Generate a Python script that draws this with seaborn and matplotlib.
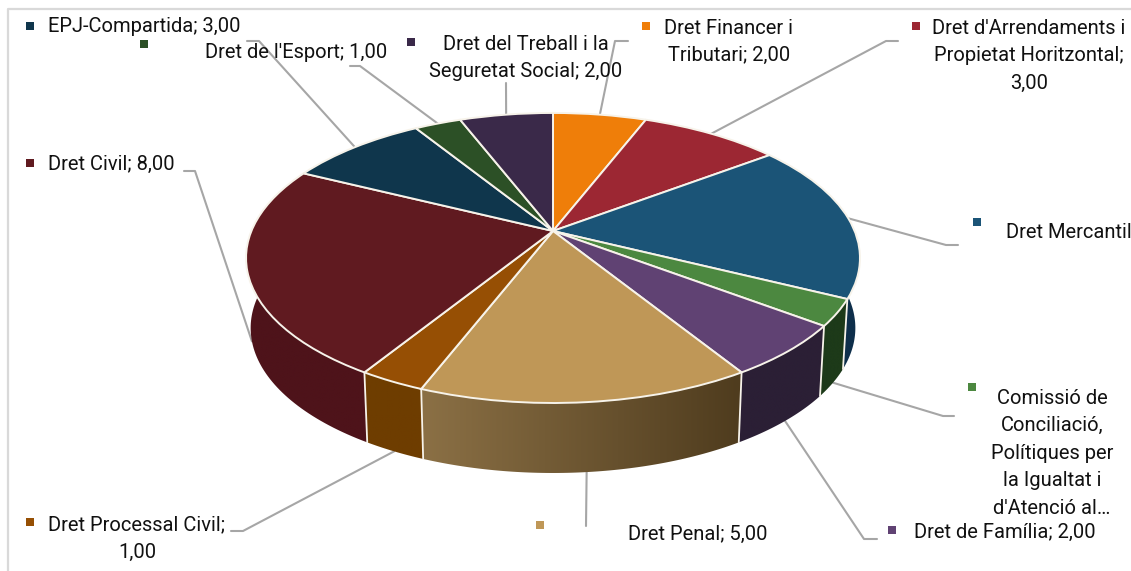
import numpy as np
import seaborn as sns
import matplotlib
matplotlib.use("Agg")
import matplotlib.pyplot as plt
from matplotlib.colors import to_rgb
from matplotlib.patches import Polygon
from matplotlib.transforms import Transform

# dades (en ordre horari des de dalt)
categories = ["Dret Financer i Tributari", "Dret d'Arrendaments i Propietat Horitzontal",
              "Dret Mercantil", "Comissió de Conciliació", "Dret de Família", "Dret Penal",
              "Dret Processal Civil", "Dret Civil", "EPJ-Compartida", "Dret de l'Esport",
              "Dret del Treball i la Seguretat Social"]
valors = [2, 3, 6, 1, 2, 5, 1, 8, 3, 1, 2]
etiquetes = [["Dret Financer i", "Tributari; 2,00"],
             ["Dret d'Arrendaments i", "Propietat Horitzontal;", "3,00"],
             ["Dret Mercantil"],
             ["Comissió de", "Conciliació,", "Polítiques per", "la Igualtat i", "d'Atenció al…"],
             ["Dret de Família; 2,00"],
             ["Dret Penal; 5,00"],
             ["Dret Processal Civil;", "1,00"],
             ["Dret Civil; 8,00"],
             ["EPJ-Compartida; 3,00"],
             ["Dret de l'Esport; 1,00"],
             ["Dret del Treball i la", "Seguretat Social; 2,00"]]

colors_dalt = ["#ef7e09", "#9c2733", "#1b5477", "#4c8840", "#604273", "#bf9757",
               "#964f04", "#601a20", "#0f364c", "#2c5026", "#3a2949"]
colors_paret_a = ["#b05c05", "#6f1b24", "#0e2f4b", "#1d3a19", "#2b1f35", "#8b7045",
                  "#6e3d00", "#4e131a", "#0a2636", "#1d3519", "#261b30"]
colors_paret_b = ["#b05c05", "#6f1b24", "#0e2f4b", "#1d3a19", "#2b1f35", "#4f3c1e",
                  "#6e3d00", "#4e131a", "#0a2636", "#1d3519", "#261b30"]

# posicio del text: x, y primera linia, alineacio
pos_text = [(729, 28, "center"), (1029, 28, "center"), (1006, 232, "left"),
            (1052, 398, "center"), (914, 532, "left"), (628, 534, "left"),
            (137, 525, "center"), (48, 164, "left"), (48, 27, "left"),
            (205, 53, "left"), (526, 44, "center")]
pos_marca = [(646, 26), (916, 26), (977, 222), (972, 387), (892, 530), (540, 525),
             (30, 522), (30, 163), (30, 26), (144, 44), (411, 42)]
# colze i final de cada linia guia
guies = [[(615, 41), (628, 41)], [(886, 41), (898, 41)], [(946, 245), (958, 245)],
         [(943, 416), (954, 416)], [(864, 539), (877, 539)], [(586, 526)],
         [(243, 531), (231, 531)], [(195, 171), (184, 171)], [(259, 41), (247, 41)],
         [(360, 66), (350, 66)], [(506, 83)]]

# perspectiva del pastis
CX, CY = 553, 231
A, B, K = 140, 301.6, 0.186
GRUIX, ESCALA_BASE = 70, 0.985


class Perspectiva(Transform):
    input_dims = output_dims = 2
    is_separable = False
    has_inverse = False

    def transform_non_affine(self, values):
        values = np.asarray(values, dtype=float)
        w = 1 + K * values[:, 1]
        return np.column_stack([CX + B * values[:, 0] / w, CY - A * values[:, 1] / w])


def dalt(theta):
    u, v = np.sin(theta), np.cos(theta)
    w = 1 + K * v
    return CX + B * u / w, CY - A * v / w


def base(theta):
    x, y = dalt(theta)
    return CX + (x - CX) * ESCALA_BASE, y + GRUIX


sns.set_theme(style="white")
plt.rcParams["font.family"] = ["Roboto", "DejaVu Sans"]

fig, ax = plt.subplots(figsize=(11.31, 5.71), dpi=100)
fig.subplots_adjust(0, 0, 1, 1)

wedges, _ = ax.pie(valors, colors=sns.color_palette(colors_dalt), startangle=90, counterclock=False,
                   wedgeprops=dict(edgecolor="#f7f3ea", linewidth=1.4))
persp = Perspectiva() + ax.transData
for w in wedges:
    w.set_transform(persp)
    w.set_zorder(3)

angles = np.concatenate([[0], np.cumsum(valors)]) / np.sum(valors) * 2 * np.pi

# parets laterals: degradat horitzontal retallat a la forma de cada porcio
for i in range(len(valors)):
    ths = np.linspace(angles[i], angles[i + 1], 80)
    ths = ths[np.cos(ths) < 0.1]
    if len(ths) < 2:
        continue
    xa, ya = dalt(ths)
    xb, yb = base(ths)
    xs = np.concatenate([xa, xb[::-1]])
    ys = np.concatenate([ya, yb[::-1]])
    ca, cb = np.array(to_rgb(colors_paret_a[i])), np.array(to_rgb(colors_paret_b[i]))
    grad = np.linspace(ca, cb, 64)[None, :, :]
    im = ax.imshow(grad, extent=(xs.min(), xs.max(), ys.max(), ys.min()), aspect="auto", zorder=2,
                   interpolation="bilinear")
    clip = Polygon(np.column_stack([xs, ys]), closed=True, transform=ax.transData, facecolor="none", edgecolor="none")
    ax.add_patch(clip)
    im.set_clip_path(clip)

ax.set_aspect("auto")
ax.set_xlim(0, 1131)
ax.set_ylim(571, 0)
ax.axis("off")

# separadors de la paret
for t in angles:
    if np.cos(t) < -0.3:
        x0, y0 = dalt(t)
        x1, y1 = base(t)
        ax.plot([x0, x1], [y0, y1], color="#f7f3ea", lw=1.3, zorder=2.5)

# linies guia, des del mig de cada porcio
mitjos = (angles[:-1] + angles[1:]) / 2
for t, g in zip(mitjos, guies):
    x0, y0 = base(t) if np.cos(t) < 0 else dalt(t)
    gx = [x0] + [p[0] for p in g]
    gy = [y0] + [p[1] for p in g]
    ax.plot(gx, gy, color="#a6a6a6", lw=1.5, zorder=1)

# etiquetes i marques
for i, linies in enumerate(etiquetes):
    x, y, ha = pos_text[i]
    for j, linia in enumerate(linies):
        ax.text(x, y + j * 27.6, linia, ha=ha, va="center", fontsize=14.5, color="#111111", zorder=4)
    ax.scatter(*pos_marca[i], marker="s", s=26, color=colors_dalt[i], linewidths=0, zorder=4)

# vora del grafic
ax.plot([8, 8, 1131], [571, 9, 9], color="#d9d9d9", lw=1.6, zorder=0, clip_on=False)

fig.savefig("out.png", dpi=100)
